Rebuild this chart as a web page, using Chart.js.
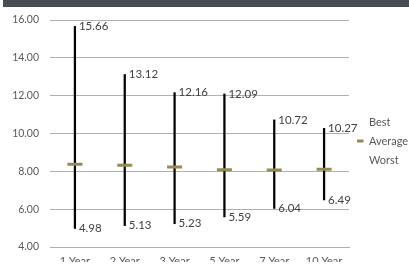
<!DOCTYPE html>
<html>
<head>
<meta charset="utf-8">
<script src="https://cdn.jsdelivr.net/npm/chart.js@4"></script>
<style>
  html, body { margin: 0; padding: 0; background: #fff; overflow: hidden; }
  #wrap { position: relative; width: 409px; height: 268px; }
  #banner { position: absolute; left: 3px; top: 0; width: 406px; height: 7px; background: #474c55; }
</style>
</head>
<body>
<div id="wrap">
  <div id="banner"></div>
  <canvas id="rangeChart"></canvas>
</div>
<script>
// Chart data
const periods = ['1 Year', '2 Year', '3 Year', '5 Year', '7 Year', '10 Year'];
const best = [15.66, 13.12, 12.16, 12.09, 10.72, 10.27];
const worst = [4.98, 5.13, 5.23, 5.59, 6.04, 6.49];
const average = [8.37, 8.32, 8.23, 8.08, 8.07, 8.11];
const yTicks = [4, 6, 8, 10, 12, 14, 16];

const FONT = 'Lato, "Open Sans", sans-serif';
const GOLD = '#948a54';
const LEGEND_SIZE = 11;

// legend is 10px + padding + box + gap + text wide; keep the plot's right edge at 349
const measure = document.createElement('canvas').getContext('2d');
measure.font = LEGEND_SIZE + 'px ' + FONT;
const legendTextW = measure.measureText('Average').width;
const rightPad = 409 - 349 - (10 + 8 + 6.5 + LEGEND_SIZE / 2 + legendTextW);

// Writes the best / worst numbers next to the ends of each line
const endLabels = {
  id: 'endLabels',
  afterDatasetsDraw(chart) {
    const meta = chart.getDatasetMeta(0);
    const y = chart.scales.y;
    const ctx = chart.ctx;
    ctx.save();
    ctx.font = '11.5px ' + FONT;
    ctx.fillStyle = '#404040';
    ctx.textAlign = 'left';
    ctx.textBaseline = 'middle';
    meta.data.forEach((bar, i) => {
      ctx.fillText(best[i].toFixed(2), bar.x + 4, y.getPixelForValue(best[i]));
      ctx.fillText(worst[i].toFixed(2), bar.x + 4, y.getPixelForValue(worst[i]));
    });
    ctx.restore();
  }
};

const ctx = document.getElementById('rangeChart').getContext('2d');
new Chart(ctx, {
  type: 'bar',
  data: {
    labels: periods,
    datasets: [
      {
        label: 'Range',
        data: periods.map((p, i) => [worst[i], best[i]]),
        backgroundColor: '#000',
        barThickness: 1.6,
        order: 2
      },
      {
        type: 'line',
        label: 'Best',
        data: best,
        showLine: false,
        pointRadius: 0,
        pointHoverRadius: 0
      },
      {
        type: 'line',
        label: 'Average',
        data: average,
        showLine: false,
        pointStyle: 'line',
        pointRadius: 7.5,
        pointBorderWidth: 3,
        borderColor: GOLD,
        backgroundColor: GOLD,
        order: 1
      },
      {
        type: 'line',
        label: 'Worst',
        data: worst,
        showLine: false,
        pointRadius: 0,
        pointHoverRadius: 0
      }
    ]
  },
  options: {
    responsive: true,
    maintainAspectRatio: false,
    animation: false,
    layout: { padding: { top: 20, right: rightPad, bottom: 6, left: 0 } },
    plugins: {
      tooltip: { enabled: false },
      legend: {
        position: 'right',
        labels: {
          font: { family: FONT, size: LEGEND_SIZE },
          color: '#595959',
          boxWidth: 6.5,
          boxHeight: 3,
          padding: 8,
          generateLabels: (chart) => chart.data.datasets
            .map((ds, i) => ({
              text: ds.label,
              datasetIndex: i,
              fillStyle: ds.label === 'Average' ? GOLD : 'rgba(0,0,0,0)',
              strokeStyle: 'rgba(0,0,0,0)',
              lineWidth: 0,
              fontColor: '#595959'
            }))
            .filter((item) => item.text !== 'Range')
        }
      }
    },
    scales: {
      x: {
        grid: { display: false, drawTicks: false },
        border: { color: '#b0b0b0' },
        ticks: { font: { family: FONT, size: 11 }, color: '#595959', padding: 7.5 },
        afterFit: (scale) => { scale.height = 15; }
      },
      y: {
        min: yTicks[0],
        max: yTicks[yTicks.length - 1],
        afterBuildTicks: (scale) => { scale.ticks = yTicks.map(v => ({ value: v })); },
        grid: { color: '#b0b0b0', drawTicks: false },
        border: { display: false },
        ticks: {
          font: { family: FONT, size: 10.5 },
          color: '#595959',
          padding: 11,
          callback: (v) => Number(v).toFixed(2)
        },
        afterFit: (scale) => { scale.width = 50; }
      }
    }
  },
  plugins: [endLabels]
});
</script>
</body>
</html>
